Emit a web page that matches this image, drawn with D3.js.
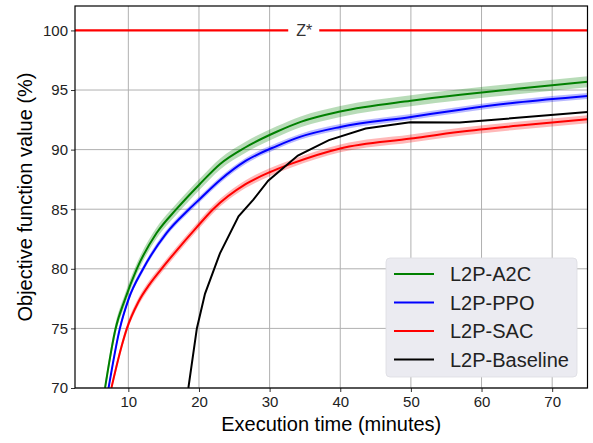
<!DOCTYPE html>
<html>
<head>
<meta charset="utf-8">
<script src="https://cdn.jsdelivr.net/npm/d3@7"></script>
<style>
  body { margin: 0; background: #fff; }
  svg { display: block; font-family: "Liberation Sans", Arial, sans-serif; }
</style>
</head>
<body>
<div id="chart"></div>
<script>

// --------------------------------------
//  Data
// --------------------------------------

const a2cTime  = [6.7, 8.2, 9.5, 11.2, 14.0, 16.8, 20.1, 23.0, 26.6, 31.0, 34.5, 40.0, 50.0, 57.0, 65.0, 75.0];
const a2cValue = [70.0, 75.0, 77.4, 80.0, 83.0, 85.0, 87.1, 88.8, 90.2, 91.5, 92.35, 93.2, 94.1, 94.6, 95.1, 95.7];

const ppoTime  = [7.2, 8.8, 10.0, 12.1, 15.4, 18.6, 20.2, 23.0, 26.6, 31.0, 34.3, 40.0, 50.0, 57.0, 65.0, 75.0];
const ppoValue = [70.0, 75.0, 77.4, 80.0, 83.0, 85.0, 85.9, 87.45, 89.05, 90.3, 91.07, 91.9, 92.74, 93.35, 93.95, 94.5];

const sacTime  = [7.6, 9.0, 9.8, 11.4, 13.0, 14.7, 16.5, 19.7, 22.0, 26.6, 30.0, 33.0, 40.0, 50.0, 57.0, 65.0, 75.0];
const sacValue = [70.0, 73.4, 75.0, 77.2, 78.7, 80.0, 81.3, 83.5, 85.0, 87.1, 88.1, 88.8, 90.1, 90.93, 91.5, 92.0, 92.55];

const baseTime  = [18.5, 19.7, 20.85, 22.97, 25.6, 27.7, 29.8, 34.0, 38.4, 43.6, 49.9, 56.9, 75.0];
const baseValue = [70.0, 75.0, 77.9, 81.3, 84.4, 85.8, 87.4, 89.5, 90.8, 91.77, 92.3, 92.27, 93.16];

// half width of the shaded spread around each curve (in %)
const a2cSpread = 0.46;
const ppoSpread = 0.25;
const sacSpread = 0.33;

const seriesNames  = ["L2P-A2C", "L2P-PPO", "L2P-SAC", "L2P-Baseline"];
const seriesColors = ["green", "blue", "red", "black"];

const zStar = 100;
const zStarLabel = "Z*";
const zStarAt = 34.9;

const xTicks = [10, 20, 30, 40, 50, 60, 70];
const yTicks = [70, 75, 80, 85, 90, 95, 100];

const series = [
  { name: seriesNames[0], color: seriesColors[0], spread: a2cSpread, smooth: true,  pts: d3.zip(a2cTime, a2cValue) },
  { name: seriesNames[1], color: seriesColors[1], spread: ppoSpread, smooth: true,  pts: d3.zip(ppoTime, ppoValue) },
  { name: seriesNames[2], color: seriesColors[2], spread: sacSpread, smooth: true,  pts: d3.zip(sacTime, sacValue) },
  { name: seriesNames[3], color: seriesColors[3], spread: 0,         smooth: false, pts: d3.zip(baseTime, baseValue) }
];

// --------------------------------------
//  Margin and canvas
// --------------------------------------

const margin = {top: 6, right: 5.5, bottom: 55, left: 75};
const width = 593;
const height = 443;
const innerwidth = width - margin.left - margin.right;
const innerheight = height - margin.top - margin.bottom;

const svg = d3.select("#chart")
  .append("svg")
    .attr("width", width)
    .attr("height", height);

const innerChart = svg
  .append("g")
    .attr("transform", `translate(${margin.left}, ${margin.top})`);

// --------------------------------------
//  Scales
// --------------------------------------

const x = d3.scaleLinear()
    .domain([2.45, 75])
    .range([0, innerwidth]);

const y = d3.scaleLinear()
    .domain([70, 102.05])
    .range([innerheight, 0]);

// --------------------------------------
//  Grid
// --------------------------------------

innerChart.append("g")
    .selectAll("line")
    .data(xTicks)
    .join("line")
    .attr("x1", d => x(d)).attr("x2", d => x(d))
    .attr("y1", 0).attr("y2", innerheight)
    .attr("stroke", "#b0b0b0")
    .attr("stroke-width", 1);

innerChart.append("g")
    .selectAll("line")
    .data(yTicks)
    .join("line")
    .attr("x1", 0).attr("x2", innerwidth)
    .attr("y1", d => y(d)).attr("y2", d => y(d))
    .attr("stroke", "#b0b0b0")
    .attr("stroke-width", 1);

// --------------------------------------
//  Curves
// --------------------------------------

svg.append("defs").append("clipPath")
    .attr("id", "clip")
  .append("rect")
    .attr("width", innerwidth)
    .attr("height", innerheight);

const plot = innerChart.append("g").attr("clip-path", "url(#clip)");

series.filter(s => s.spread > 0).forEach(s => {
  const area = d3.area()
      .curve(d3.curveMonotoneX)
      .x(d => x(d[0]))
      .y0(d => y(d[1] - s.spread))
      .y1(d => y(d[1] + s.spread));
  plot.append("path")
      .datum(s.pts)
      .attr("d", area)
      .attr("fill", s.color)
      .attr("opacity", 0.28);
});

series.forEach(s => {
  const line = d3.line()
      .curve(s.smooth ? d3.curveMonotoneX : d3.curveLinear)
      .x(d => x(d[0]))
      .y(d => y(d[1]));
  plot.append("path")
      .datum(s.pts)
      .attr("d", line)
      .attr("fill", "none")
      .attr("stroke", s.color)
      .attr("stroke-width", 2);
});

// Z* reference line with its label
plot.append("line")
    .attr("x1", 0).attr("x2", innerwidth)
    .attr("y1", y(zStar)).attr("y2", y(zStar))
    .attr("stroke", "red")
    .attr("stroke-width", 2.2);

plot.append("rect")
    .attr("x", x(zStarAt) - 16)
    .attr("y", y(zStar) - 10)
    .attr("width", 31)
    .attr("height", 20)
    .attr("fill", "white");

plot.append("text")
    .attr("x", x(zStarAt))
    .attr("y", y(zStar))
    .attr("dy", "0.36em")
    .attr("text-anchor", "middle")
    .attr("font-size", 16)
    .attr("fill", "#333")
    .text(zStarLabel);

// --------------------------------------
//  Axes
// --------------------------------------

const xAxis = innerChart.append("g")
    .attr("transform", `translate(0, ${innerheight})`)
    .call(d3.axisBottom(x).tickValues(xTicks).tickSize(4).tickPadding(4));

const yAxis = innerChart.append("g")
    .call(d3.axisLeft(y).tickValues(yTicks).tickSize(4).tickPadding(3));

[xAxis, yAxis].forEach(a => {
  a.select(".domain").remove();
  a.selectAll("text").attr("font-size", 15).attr("font-family", "Liberation Sans, Arial, sans-serif").attr("fill", "#222");
  a.selectAll("line").attr("stroke", "#333");
});

innerChart.append("rect")
    .attr("width", innerwidth)
    .attr("height", innerheight)
    .attr("fill", "none")
    .attr("stroke", "black")
    .attr("stroke-width", 1.2);

svg.append("text")
    .attr("x", margin.left + innerwidth / 2)
    .attr("y", 431)
    .attr("text-anchor", "middle")
    .attr("font-size", 20)
    .text("Execution time (minutes)");

svg.append("text")
    .attr("transform", `translate(32, ${margin.top + innerheight / 2}) rotate(-90)`)
    .attr("text-anchor", "middle")
    .attr("font-size", 20)
    .text("Objective function value (%)");

// --------------------------------------
//  Legend
// --------------------------------------

const legend = svg.append("g").attr("transform", "translate(386, 258)");

legend.append("rect")
    .attr("width", 191)
    .attr("height", 119)
    .attr("rx", 4)
    .attr("fill", "#ebebf1")
    .attr("stroke", "#dcdce2")
    .attr("stroke-width", 0.8);

legend.selectAll(".entry")
    .data(series)
    .join("g")
    .attr("class", "entry")
    .attr("transform", (d, i) => `translate(0, ${16 + i * 28.5})`)
    .each(function (d) {
      const g = d3.select(this);
      g.append("line")
          .attr("x1", 8).attr("x2", 48)
          .attr("stroke", d.color)
          .attr("stroke-width", 2);
      g.append("text")
          .attr("x", 64)
          .attr("dy", "0.36em")
          .attr("font-size", 20)
          .attr("fill", "#222")
          .text(d.name);
    });

</script>
</body>
</html>
